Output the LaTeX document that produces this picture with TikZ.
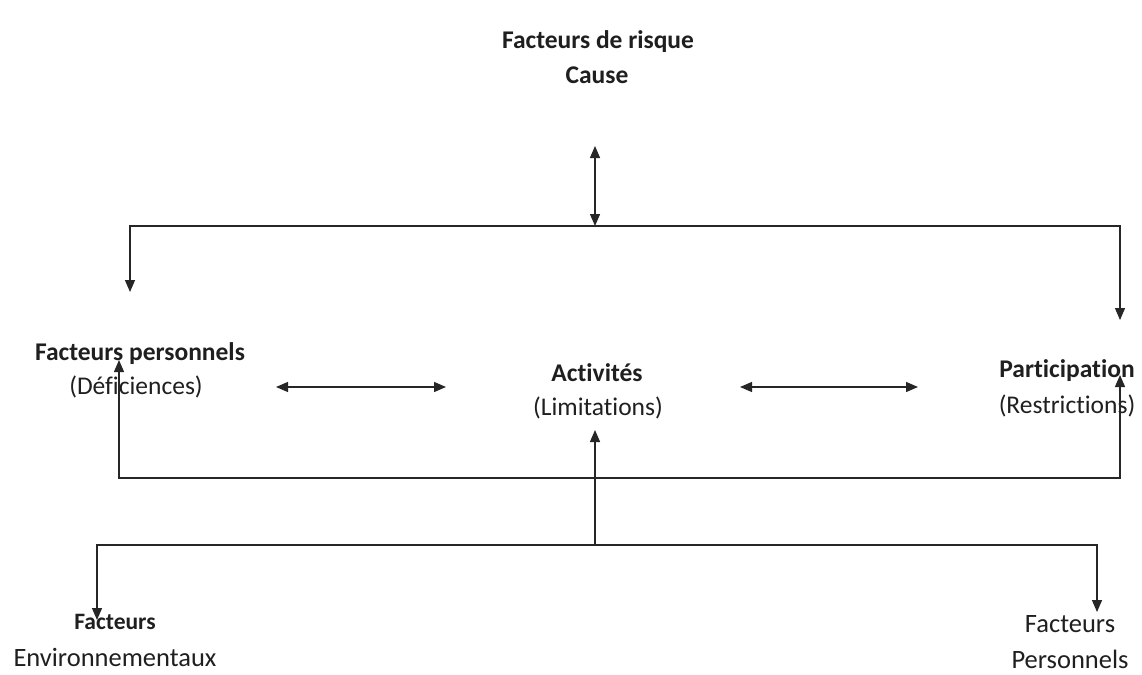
\documentclass[tikz,border=0pt]{standalone}
\usepackage{fontspec}
\setmainfont{Carlito}[Ligatures=NoCommon]
\usetikzlibrary{arrows.meta}
\begin{document}
\begin{tikzpicture}[x=1pt,y=-1pt,
  lbl/.style={inner sep=0pt,anchor=center,text=black!88},
  bl/.style={lbl,font=\fontsize{25.5}{28}\selectfont\bfseries},
  nl/.style={lbl,font=\fontsize{25.5}{28}\selectfont},
  bn/.style={lbl,font=\fontsize{26.5}{29}\selectfont},
  conn/.style={line width=1.3pt,draw=black!85,>={Triangle[length=12pt,width=10pt]}}]
\useasboundingbox (0,0) rectangle (1142,674);
\fill[white] (0,0) rectangle (1142,674);
% labels
\node[bl] (risk) at (598,42) {Facteurs de risque};
\node[bl] (cause) at (597,75) {Cause};
\node[bl] (fp) at (140,354) {Facteurs personnels};
\node[nl] (def) at (136,387) {(Déficiences)};
\node[bl] (act) at (597,373) {Activités};
\node[nl] (lim) at (598,408) {(Limitations)};
\node[bl] (part) at (1067,371) {Participation};
\node[nl] (res) at (1067,406) {(Restrictions)};
\node[lbl,font=\fontsize{23.5}{26}\selectfont\bfseries] (fe) at (115,622) {Facteurs};
\node[bn] (env) at (115,657) {Environnementaux};
\node[bn] (fr) at (1070,624) {Facteurs};
\node[bn] (pers) at (1070,659) {Personnels};
% coordinates
\coordinate (ra) at (595,146);
\coordinate (j1) at (595,226);
\coordinate (lp) at (130,292);
\coordinate (rp) at (1120,320);
\coordinate (h1a) at (276,387);
\coordinate (h1b) at (446,387);
\coordinate (h2a) at (740,387);
\coordinate (h2b) at (918,387);
\coordinate (lq) at (119,360);
\coordinate (rq) at (1120,375);
\coordinate (j2) at (595,478);
\coordinate (lu) at (595,430);
\coordinate (j3) at (595,545);
\coordinate (ba) at (97,620);
\coordinate (bb) at (1097,612);
% connectors
\draw[conn,<->] (ra) -- (j1);
\draw[conn,<->] (lp) |- (j1) -| (rp);
\draw[conn,<->] (h1a) -- (h1b);
\draw[conn,<->] (h2a) -- (h2b);
\draw[conn,<->] (lq) |- (j2) -| (rq);
\draw[conn,->] (j3) -- (lu);
\draw[conn,<->] (ba) |- (j3) -| (bb);
\end{tikzpicture}
\end{document}
